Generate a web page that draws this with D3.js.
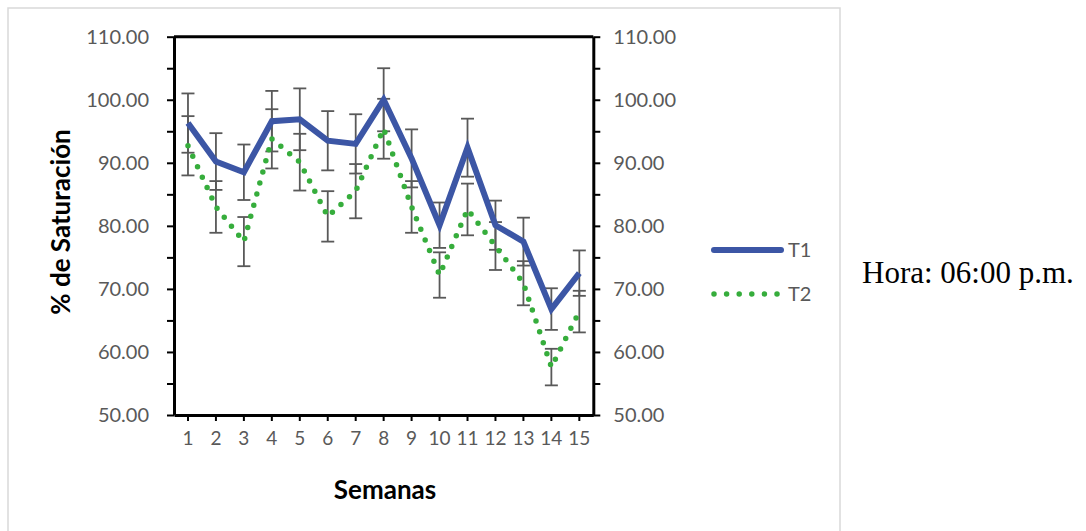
<!DOCTYPE html>
<html>
<head>
<meta charset="utf-8">
<script src="https://cdn.jsdelivr.net/npm/d3@7"></script>
<style>
  html, body { margin: 0; padding: 0; background: #fff; }
  svg { display: block; }
</style>
</head>
<body>
<svg id="chart" width="1086" height="531"></svg>
<script>
// Weekly oxygen saturation at 06:00 p.m., two treatments, mean ± error
const semanas = ["1","2","3","4","5","6","7","8","9","10","11","12","13","14","15"];
const t1 = [96.3, 90.2, 88.5, 96.6, 96.9, 93.5, 93.0, 100.0, 90.7, 80.1, 92.4, 80.1, 77.5, 66.8, 72.5];
const t1Err = [4.7, 4.5, 4.4, 4.8, 4.9, 4.7, 4.7, 5.0, 4.6, 3.6, 4.6, 3.9, 3.8, 3.3, 3.6];
const t2 = [92.7, 83.0, 77.5, 93.8, 90.1, 81.5, 85.5, 95.4, 83.0, 72.2, 82.6, 76.8, 70.9, 57.6, 66.4];
const t2Err = [4.7, 4.1, 3.9, 4.7, 4.5, 4.0, 4.3, 4.75, 4.1, 3.6, 4.1, 3.8, 3.5, 2.9, 3.3];
const yTicks = [50, 60, 70, 80, 90, 100, 110];
const yMinor = [55, 65, 75, 85, 95, 105];
const seriesNames = ["T1", "T2"];
const horaLabel = "Hora: 06:00 p.m.";

const svg = d3.select("#chart");
const tickFont = "Lato, 'Open Sans', sans-serif";
const gray = "#595959";
const blue = "#3c56a5";
const green = "#36ad3c";

// outer frame
svg.append("rect")
  .attr("x", 8).attr("y", 8).attr("width", 832).attr("height", 540)
  .attr("fill", "none").attr("stroke", "#d9d9d9").attr("stroke-width", 1.5);

const plot = { left: 174, right: 593.3, top: 36.7, bottom: 415 };

const x = d3.scaleBand().domain(semanas).range([plot.left, plot.right]);
const cx = d => x(d) + x.bandwidth() / 2;
const y = d3.scaleLinear().domain([50, 110]).range([plot.bottom, plot.top]);

const allY = yTicks.concat(yMinor).sort((a, b) => a - b);
const fmt = d => (yTicks.includes(d) ? d.toFixed(2) : "");

function styleAxis(g) {
  g.select(".domain").attr("stroke", "#000").attr("stroke-width", 3);
  g.selectAll(".tick line").attr("stroke", "#000").attr("stroke-width", 2);
  g.selectAll(".tick text")
    .attr("fill", gray)
    .style("font-family", tickFont)
    .style("font-size", "20px");
}

// left axis
svg.append("g")
  .attr("transform", `translate(${plot.left},0)`)
  .call(d3.axisLeft(y).tickValues(allY).tickFormat(fmt).tickSize(7).tickSizeOuter(0).tickPadding(18))
  .call(styleAxis);

// right axis
svg.append("g")
  .attr("transform", `translate(${plot.right},0)`)
  .call(d3.axisRight(y).tickValues(allY).tickFormat(fmt).tickSize(7).tickSizeOuter(0).tickPadding(13))
  .call(styleAxis);

// bottom axis
svg.append("g")
  .attr("transform", `translate(0,${plot.bottom})`)
  .call(d3.axisBottom(x).tickSize(6).tickSizeOuter(0).tickPadding(11))
  .call(styleAxis)
  .call(g => g.selectAll(".tick text").style("font-size", "19px"));

// top edge of the plot area
svg.append("line")
  .attr("x1", plot.left).attr("x2", plot.right)
  .attr("y1", y(110)).attr("y2", y(110))
  .attr("stroke", "#000").attr("stroke-width", 3);

// error bars
function errorBars(vals, errs) {
  const g = svg.append("g").attr("stroke", gray).attr("stroke-width", 1.8).attr("fill", "none");
  semanas.forEach((s, i) => {
    const xc = cx(s);
    const hi = y(vals[i] + errs[i]), lo = y(vals[i] - errs[i]);
    g.append("line").attr("x1", xc).attr("x2", xc).attr("y1", hi).attr("y2", lo);
    g.append("line").attr("x1", xc - 6.5).attr("x2", xc + 6.5).attr("y1", hi).attr("y2", hi);
    g.append("line").attr("x1", xc - 6.5).attr("x2", xc + 6.5).attr("y1", lo).attr("y2", lo);
  });
}
errorBars(t1, t1Err);
errorBars(t2, t2Err);

const line = d3.line().x((d, i) => cx(semanas[i])).y(d => y(d));

// T2: round-dotted green
svg.append("path")
  .datum(t2)
  .attr("d", line)
  .attr("fill", "none")
  .attr("stroke", green)
  .attr("stroke-width", 5.5)
  .attr("stroke-linecap", "round")
  .attr("stroke-dasharray", "0 11.5");

// T1: solid blue
svg.append("path")
  .datum(t1)
  .attr("d", line)
  .attr("fill", "none")
  .attr("stroke", blue)
  .attr("stroke-width", 6)
  .attr("stroke-linejoin", "miter");

// axis titles
svg.append("text")
  .attr("transform", "translate(70,222) rotate(-90)")
  .attr("text-anchor", "middle")
  .style("font-family", tickFont).style("font-weight", "bold").style("font-size", "26px")
  .attr("fill", "#000")
  .text("% de Saturación");

svg.append("text")
  .attr("x", 385).attr("y", 499)
  .attr("text-anchor", "middle")
  .style("font-family", tickFont).style("font-weight", "bold").style("font-size", "26px")
  .attr("fill", "#000")
  .text("Semanas");

// legend
const legend = svg.append("g");
const legY = [250, 294];
legend.append("line")
  .attr("x1", 714).attr("x2", 781).attr("y1", legY[0]).attr("y2", legY[0])
  .attr("stroke", blue).attr("stroke-width", 6).attr("stroke-linecap", "round");
legend.append("line")
  .attr("x1", 714).attr("x2", 781).attr("y1", legY[1]).attr("y2", legY[1])
  .attr("stroke", green).attr("stroke-width", 5.5).attr("stroke-linecap", "round")
  .attr("stroke-dasharray", "0 12.6");
seriesNames.forEach((n, i) => {
  legend.append("text")
    .attr("x", 788).attr("y", legY[i] + 7)
    .style("font-family", tickFont).style("font-size", "20px")
    .attr("fill", gray)
    .text(n);
});

// time label beside the chart
svg.append("text")
  .attr("x", 862).attr("y", 283)
  .style("font-family", "'Liberation Serif', 'Times New Roman', serif")
  .style("font-size", "31px")
  .attr("fill", "#000")
  .text(horaLabel);
</script>
</body>
</html>
